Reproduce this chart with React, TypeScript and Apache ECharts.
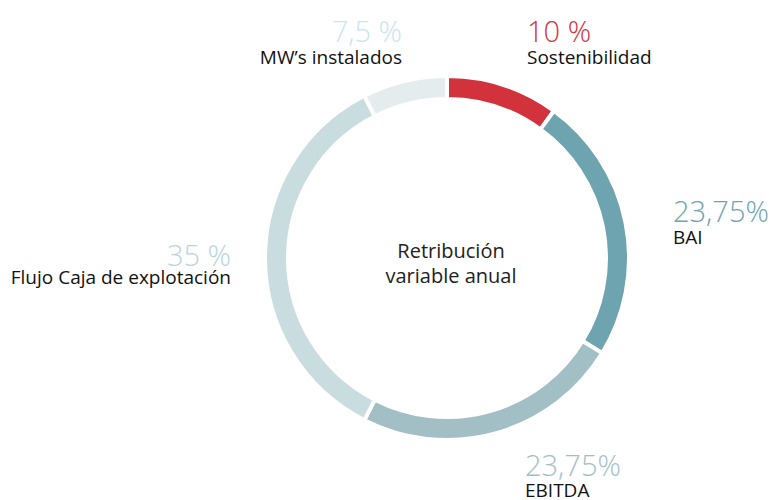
import React, { useEffect, useRef } from "react";
import * as echarts from "echarts";

const categories = ["Sostenibilidad", "BAI", "EBITDA", "Flujo Caja de explotación", "MW’s instalados"];
const values = [10, 23.75, 23.75, 35, 7.5];
const valueLabels = ["10 %", "23,75%", "23,75%", "35 %", "7,5 %"];
const sliceColors = ["#d2323c", "#6ea4af", "#a3bfc6", "#c9dce0", "#e4ecee"];
const valueColors = ["#d2323c", "#6ea4af", "#a3bfc6", "#b7d6dc", "#c8e6ec"];
const centerTitle = ["Retribución", "variable anual"];

// label layout: [x, valueTop, nameTop, align]
const labelPos: [number, number, number, "left" | "right"][] = [
  [527, 16, 47, "left"],
  [673, 196, 227, "left"],
  [525, 450, 480, "left"],
  [231, 240, 267, "right"],
  [402, 16, 47, "right"],
];

const FONT = "'Open Sans', 'Noto Sans', sans-serif";

export default function App() {
  const ref = useRef<HTMLDivElement>(null);
  useEffect(() => {
    document.body.style.margin = "0";
    if (!ref.current) return;
    const chart = echarts.init(ref.current, null, { renderer: "svg" });
    const graphics: any[] = [];
    categories.forEach((name, i) => {
      const [x, vy, ny, align] = labelPos[i];
      graphics.push({
        type: "text",
        x,
        y: vy,
        style: {
          text: valueLabels[i],
          fill: valueColors[i],
          font: `300 29px ${FONT}`,
          align,
          verticalAlign: "top",
        },
      });
      graphics.push({
        type: "text",
        x,
        y: ny,
        style: {
          text: name,
          fill: "#111",
          font: `400 19px ${FONT}`,
          align,
          verticalAlign: "top",
        },
      });
    });
    graphics.push({
      type: "text",
      x: 451,
      y: 238,
      style: {
        text: centerTitle.join("\n"),
        fill: "#222",
        font: `400 20px ${FONT}`,
        align: "center",
        verticalAlign: "top",
        lineHeight: 25,
      },
    });
    chart.setOption({
      animation: false,
      graphic: graphics,
      series: [
        {
          type: "pie",
          center: [447, 258],
          radius: [159, 182],
          startAngle: 90,
          clockwise: true,
          label: { show: false },
          labelLine: { show: false },
          emphasis: { disabled: true },
          itemStyle: { borderColor: "#fff", borderWidth: 4 },
          data: categories.map((name, i) => ({
            name,
            value: values[i],
            itemStyle: { color: sliceColors[i] },
          })),
        },
      ],
    });
    return () => chart.dispose();
  }, []);
  return <div ref={ref} style={{ width: 773, height: 500 }} />;
}
